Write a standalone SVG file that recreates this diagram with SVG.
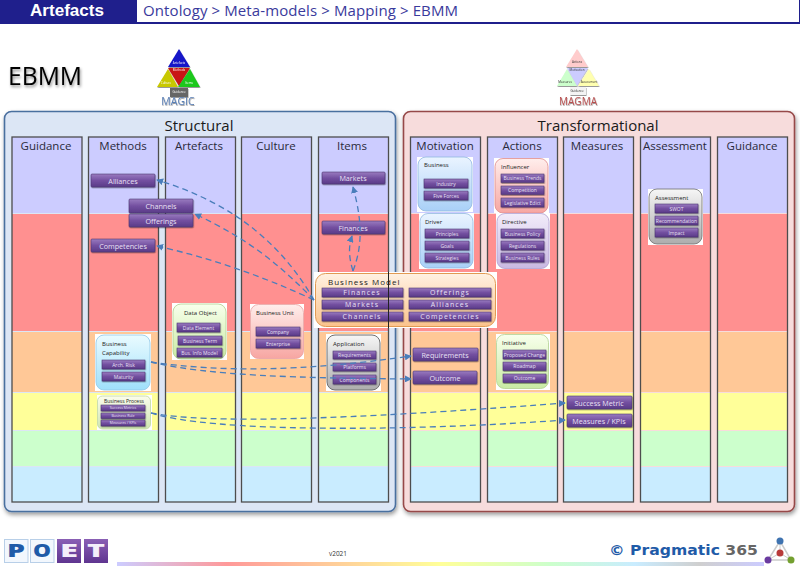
<svg xmlns="http://www.w3.org/2000/svg" xmlns:xlink="http://www.w3.org/1999/xlink" width="800" height="566" viewBox="0 0 800 566">
<style>
text{font-family:"Open Sans","Noto Sans","Liberation Sans",sans-serif}
.col{font-size:11.5px;fill:#2a2a3a;text-anchor:middle}
.ttl{font-size:15px;fill:#1a1a1a;text-anchor:middle}
.btn{fill:url(#gBtn);stroke:#4a3570;stroke-width:.6;filter:url(#sh)}
.bt{fill:#e8e0f4;text-anchor:middle;font-size:7.2px}
.bs{fill:#e8e0f4;text-anchor:middle;font-size:5px}
.bx{fill:#e8e0f4;text-anchor:middle;font-size:3.6px}
.bm{fill:#e8e0f4;text-anchor:middle;font-size:7px;letter-spacing:1.1px}
.nt{fill:#222;font-size:6px}
.bk{fill:#fff}
.conn{fill:none;stroke:#4a7ebb;stroke-width:1.3;stroke-dasharray:6 4;marker-end:url(#arr)}
.tri{font-size:3px;text-anchor:middle}
.colb{fill:none;stroke:#4d4d4d;stroke-width:1.3}
.logo{font-size:17px;font-weight:800;text-anchor:start}
</style>
<defs>
<linearGradient id="gBtn" x1="0" y1="0" x2="0" y2="1"><stop offset="0" stop-color="#9a7cc0"/><stop offset=".5" stop-color="#7350a0"/><stop offset="1" stop-color="#5a3a88"/></linearGradient>
<linearGradient id="gBlue" x1="0" y1="0" x2="0" y2="1"><stop offset="0" stop-color="#eaf4ff"/><stop offset="1" stop-color="#a9d0f7"/></linearGradient>
<linearGradient id="gPink" x1="0" y1="0" x2="0" y2="1"><stop offset="0" stop-color="#ffeeec"/><stop offset="1" stop-color="#f7a6a2"/></linearGradient>
<linearGradient id="gLav" x1="0" y1="0" x2="0" y2="1"><stop offset="0" stop-color="#f2ecfa"/><stop offset="1" stop-color="#c9b9e2"/></linearGradient>
<linearGradient id="gGreen" x1="0" y1="0" x2="0" y2="1"><stop offset="0" stop-color="#f8ffec"/><stop offset="1" stop-color="#c9eba4"/></linearGradient>
<linearGradient id="gCyan" x1="0" y1="0" x2="0" y2="1"><stop offset="0" stop-color="#eafbff"/><stop offset="1" stop-color="#9fe0fb"/></linearGradient>
<linearGradient id="gOlive" x1="0" y1="0" x2="0" y2="1"><stop offset="0" stop-color="#fbfcec"/><stop offset="1" stop-color="#cfe6b2"/></linearGradient>
<linearGradient id="gGrey" x1="0" y1="0" x2="0" y2="1"><stop offset="0" stop-color="#f6f6f6"/><stop offset="1" stop-color="#adadad"/></linearGradient>
<linearGradient id="gOrange" x1="0" y1="0" x2="0" y2="1"><stop offset="0" stop-color="#fff1e2"/><stop offset="1" stop-color="#fbc38c"/></linearGradient>
<linearGradient id="gFoot"><stop offset="0" stop-color="#ccccff"/><stop offset=".17" stop-color="#ff9999"/><stop offset=".33" stop-color="#ffcc99"/><stop offset=".5" stop-color="#ffff99"/><stop offset=".67" stop-color="#ccffcc"/><stop offset=".8" stop-color="#c9ecff"/><stop offset=".9" stop-color="#cfcfcf"/><stop offset="1" stop-color="#ccccff"/></linearGradient>
<linearGradient id="gP" x1="0" y1="0" x2="0" y2="1"><stop offset="0" stop-color="#8a5fb5"/><stop offset="1" stop-color="#5f3590"/></linearGradient>
<filter id="sh" x="-20%" y="-20%" width="140%" height="150%"><feDropShadow dx=".5" dy="1" stdDeviation=".6" flood-color="#000" flood-opacity=".4"/></filter>
<filter id="shL" x="-5%" y="-5%" width="110%" height="110%"><feDropShadow dx="1" dy="2.5" stdDeviation="2" flood-color="#000" flood-opacity=".4"/></filter>
<filter id="shT" x="-10%" y="-20%" width="125%" height="150%"><feDropShadow dx="1" dy="2" stdDeviation="1.5" flood-color="#000" flood-opacity=".45"/></filter>
<marker id="arr" viewBox="0 0 8 8" refX="7" refY="4" markerWidth="7" markerHeight="7" orient="auto" markerUnits="userSpaceOnUse"><path d="M0,0 L8,4 L0,8 Z" fill="#4a7ebb"/></marker>
<g id="bands">
<rect x="0" y="137" width="70" height="76" fill="#ccccff"/>
<rect x="0" y="214" width="70" height="117" fill="#ff9090"/>
<rect x="0" y="332" width="70" height="60" fill="#ffc897"/>
<rect x="0" y="393" width="70" height="37" fill="#ffff99"/>
<rect x="0" y="431" width="70" height="35" fill="#ccffcc"/>
<rect x="0" y="467" width="70" height="35" fill="#c9ecff"/>
<rect class="colb" x="0" y="137" width="70" height="365"/>
</g>
</defs>
<rect width="800" height="566" fill="#fff"/>

<g id="header">
<rect x="0" y="0" width="800" height="24" fill="#1f1f8c"/>
<rect x="137" y="0" width="662" height="22" fill="#fff"/>
<text x="30" y="16" font-size="17" font-weight="700" fill="#fff" textLength="74" lengthAdjust="spacingAndGlyphs" style="font-family:'Liberation Sans',sans-serif">Artefacts</text>
<text x="143" y="16" font-size="15" fill="#3a3a9c" textLength="315" lengthAdjust="spacing">Ontology &gt; Meta-models &gt; Mapping &gt; EBMM</text>
</g>
<text x="8" y="85" font-size="26" fill="#000" filter="url(#shT)" textLength="74" lengthAdjust="spacingAndGlyphs">EBMM</text>

<g id="magic" filter="url(#sh)">
<polygon points="179,49 168,67 190,67" fill="#1414c8"/>
<polygon points="168,68 190,68 179,86" fill="#c81414"/>
<polygon points="168,69 157,87 178,87" fill="#c8c800"/>
<polygon points="190,69 200,87 178,87" fill="#1ec81e"/>
<rect x="170" y="88" width="18" height="9" fill="#666"/>
<text class="tri" x="179" y="64" fill="#fff">Artefacts</text>
<text class="tri" x="179" y="71" fill="#fff">Methods</text>
<text class="tri" x="166" y="84" fill="#fff">Culture</text>
<text class="tri" x="189" y="84" fill="#fff">Items</text>
<text class="tri" x="179" y="93" fill="#fff">Guidance</text>
<text x="178" y="105" font-size="10.5" fill="#5a7fb5" text-anchor="middle">MAGIC</text>
</g>
<g id="magma" filter="url(#sh)">
<polygon points="577,49 566,67 588,67" fill="#ffcccc"/>
<polygon points="567,68 588,68 577,86" fill="#ccccff"/>
<polygon points="567,69 557,86 577,86" fill="#ccffcc"/>
<polygon points="589,69 599,86 578,86" fill="#ffffb0"/>
<rect x="570" y="87" width="16" height="8" fill="#f4f4f4"/>
<text class="tri" x="577" y="63" fill="#333">Actions</text>
<text class="tri" x="577" y="71" fill="#333">Motivation</text>
<text class="tri" x="565" y="83" fill="#333">Measures</text>
<text class="tri" x="589" y="83" fill="#333">Assessment</text>
<text class="tri" x="577" y="92" fill="#333">Guidance</text>
<text x="578" y="105" font-size="10" fill="#b85050" text-anchor="middle">MAGMA</text>
</g>

<g id="structural">
<rect x="4.5" y="111.5" width="391" height="400" rx="7" fill="#dce6f5" stroke="#4a6f9f" stroke-width="1.6" filter="url(#shL)"/>
<text class="ttl" x="199" y="131">Structural</text>
<use xlink:href="#bands" href="#bands" x="12"/><use xlink:href="#bands" href="#bands" x="88.5"/><use xlink:href="#bands" href="#bands" x="165.5"/><use xlink:href="#bands" href="#bands" x="241.5"/><use xlink:href="#bands" href="#bands" x="318.5"/>
<text class="col" x="46" y="150">Guidance</text>
<text class="col" x="123" y="150">Methods</text>
<text class="col" x="199" y="150">Artefacts</text>
<text class="col" x="276" y="150">Culture</text>
<text class="col" x="352" y="150">Items</text>
</g>
<g id="transformational">
<rect x="403.5" y="111.5" width="391" height="400" rx="7" fill="#f7dcdc" stroke="#964848" stroke-width="1.6" filter="url(#shL)"/>
<text class="ttl" x="598" y="131">Transformational</text>
<use xlink:href="#bands" href="#bands" x="410.5"/><use xlink:href="#bands" href="#bands" x="487.5"/><use xlink:href="#bands" href="#bands" x="563.5"/><use xlink:href="#bands" href="#bands" x="640.5"/><use xlink:href="#bands" href="#bands" x="717.5"/>
<text class="col" x="445" y="150">Motivation</text>
<text class="col" x="522" y="150">Actions</text>
<text class="col" x="597" y="150">Measures</text>
<text class="col" x="675" y="150">Assessment</text>
<text class="col" x="752" y="150">Guidance</text>
</g>

<g id="alliances"><rect class="btn" x="91" y="174" width="64" height="13" rx="1"/><text class="bt" x="123" y="183.5">Alliances</text></g>
<g id="channels"><rect class="btn" x="129" y="199" width="64" height="14" rx="1"/><text class="bt" x="161" y="209">Channels</text></g>
<g id="offerings"><rect class="btn" x="129" y="214" width="64" height="13" rx="1"/><text class="bt" x="161" y="223.5">Offerings</text></g>
<g id="competencies"><rect class="btn" x="91" y="239" width="64" height="13" rx="1"/><text class="bt" x="123" y="248.5">Competencies</text></g>
<g id="markets"><rect class="btn" x="322" y="172" width="63" height="12" rx="1"/><text class="bt" x="353" y="181">Markets</text></g>
<g id="finances"><rect class="btn" x="322" y="221" width="63" height="13" rx="1"/><text class="bt" x="353" y="230.5">Finances</text></g>
<g id="requirements"><rect class="btn" x="413" y="348" width="65" height="13" rx="1"/><text class="bt" x="445" y="357.5">Requirements</text></g>
<g id="outcome"><rect class="btn" x="413" y="371" width="64" height="13" rx="1"/><text class="bt" x="445" y="380.5">Outcome</text></g>
<g id="success-metric"><rect class="btn" x="567" y="396" width="65" height="13" rx="1"/><text class="bt" x="599" y="405.5">Success Metric</text></g>
<g id="measures-kpis"><rect class="btn" x="567" y="414" width="65" height="13" rx="1"/><text class="bt" x="599" y="423.5">Measures / KPIs</text></g>

<g id="data-object">
<rect class="bk" x="172" y="303" width="55" height="57"/>
<rect x="173" y="304" width="53" height="55" rx="8" fill="url(#gGreen)" stroke="#b0d090" stroke-width=".8"/>
<text class="nt" x="184" y="315">Data Object</text>
<rect class="btn" x="177" y="323" width="43" height="9"/><text class="bs" x="198.500" y="329.500">Data Element</text>
<rect class="btn" x="178" y="336" width="44" height="9"/><text class="bs" x="200" y="342.500">Business Term</text>
<rect class="btn" x="177" y="348" width="45" height="9"/><text class="bs" x="199.500" y="354.500">Bus. Info Model</text>
</g>
<g id="business-unit">
<rect class="bk" x="250" y="304" width="54" height="55"/>
<rect x="250.500" y="304.500" width="53" height="54" rx="8" fill="url(#gPink)" stroke="#e8a0a0" stroke-width=".8"/>
<text class="nt" x="256" y="315">Business Unit</text>
<rect class="btn" x="256" y="327" width="44" height="9"/><text class="bs" x="278" y="333.500">Company</text>
<rect class="btn" x="256" y="339" width="44" height="9"/><text class="bs" x="278" y="345.500">Enterprise</text>
</g>
<g id="business-capability">
<rect class="bk" x="95" y="334" width="56" height="57"/>
<rect x="96" y="335" width="54" height="55" rx="8" fill="url(#gCyan)" stroke="#90c8e8" stroke-width=".8"/>
<text class="nt" x="102" y="346">Business</text><text class="nt" x="102" y="355">Capability</text>
<rect class="btn" x="102" y="360" width="43" height="9"/><text class="bs" x="123.500" y="366.500">Arch. Risk</text>
<rect class="btn" x="102" y="372" width="43" height="9"/><text class="bs" x="123.500" y="378.500">Maturity</text>
</g>
<g id="business-process">
<rect class="bk" x="97" y="395" width="55" height="35"/>
<rect x="97.500" y="396" width="53" height="33" rx="5" fill="url(#gOlive)" stroke="#c0d8a0" stroke-width=".8"/>
<text x="124" y="403" text-anchor="middle" font-size="5" fill="#222">Business Process</text>
<rect class="btn" x="101" y="405" width="44" height="6"/><text class="bx" x="123" y="409.300">Success Metrics</text>
<rect class="btn" x="101" y="413" width="44" height="5.500"/><text class="bx" x="123" y="417">Business Rule</text>
<rect class="btn" x="101" y="420" width="44" height="6"/><text class="bx" x="123" y="424.300">Measures / KPIs</text>
</g>
<g id="application">
<rect class="bk" x="326" y="334" width="55" height="57"/>
<rect x="327" y="335" width="53" height="55" rx="8" fill="url(#gGrey)" stroke="#707070" stroke-width="1"/>
<text class="nt" x="333" y="346">Application</text>
<rect class="btn" x="333" y="351" width="43" height="8"/><text class="bs" x="354.500" y="357">Requirements</text>
<rect class="btn" x="333" y="363" width="43" height="8"/><text class="bs" x="354.500" y="369">Platforms</text>
<rect class="btn" x="333" y="375" width="43" height="9"/><text class="bs" x="354.500" y="381.500">Components</text>
</g>
<g id="business">
<rect class="bk" x="417" y="157" width="56" height="55"/>
<rect x="418" y="157" width="54" height="54" rx="8" fill="url(#gBlue)" stroke="#90b8e0" stroke-width=".8"/>
<text class="nt" x="424" y="167">Business</text>
<rect class="btn" x="424" y="179" width="44" height="9"/><text class="bs" x="446" y="185.500">Industry</text>
<rect class="btn" x="424" y="191" width="44" height="9"/><text class="bs" x="446" y="197.500">Five Forces</text>
</g>
<g id="driver">
<rect class="bk" x="419" y="213" width="55" height="56"/>
<rect x="420" y="213.500" width="53" height="54.500" rx="8" fill="url(#gBlue)" stroke="#90b8e0" stroke-width=".8"/>
<text class="nt" x="425" y="224">Driver</text>
<rect class="btn" x="425" y="229" width="44" height="9"/><text class="bs" x="447" y="235.500">Principles</text>
<rect class="btn" x="425" y="241" width="44" height="9"/><text class="bs" x="447" y="247.500">Goals</text>
<rect class="btn" x="425" y="253" width="44" height="9"/><text class="bs" x="447" y="259.500">Strategies</text>
</g>
<g id="influencer">
<rect class="bk" x="494" y="158" width="55" height="55"/>
<rect x="495" y="158.500" width="53" height="54.500" rx="8" fill="url(#gPink)" stroke="#e08a8a" stroke-width=".8"/>
<text class="nt" x="501" y="169">Influencer</text>
<rect class="btn" x="501" y="174" width="43" height="8.500"/><text class="bs" x="522.500" y="180">Business Trends</text>
<rect class="btn" x="501" y="186" width="43" height="8.500"/><text class="bs" x="522.500" y="192">Competition</text>
<rect class="btn" x="501" y="198" width="43" height="9"/><text class="bs" x="522.500" y="204.500">Legislative Edict</text>
</g>
<g id="directive">
<rect class="bk" x="496" y="213" width="54" height="56"/>
<rect x="497" y="213.500" width="52" height="55" rx="8" fill="url(#gLav)" stroke="#b0a0d0" stroke-width=".8"/>
<text class="nt" x="502" y="224">Directive</text>
<rect class="btn" x="501" y="229" width="43" height="9"/><text class="bs" x="522.500" y="235.500">Business Policy</text>
<rect class="btn" x="501" y="241" width="43" height="9"/><text class="bs" x="522.500" y="247.500">Regulations</text>
<rect class="btn" x="501" y="253" width="43" height="9"/><text class="bs" x="522.500" y="259.500">Business Rules</text>
</g>
<g id="initiative">
<rect class="bk" x="496" y="334" width="54" height="56"/>
<rect x="496.500" y="334.500" width="52" height="54" rx="8" fill="url(#gGreen)" stroke="#b0d090" stroke-width=".8"/>
<text class="nt" x="502" y="345">Initiative</text>
<rect class="btn" x="503" y="350" width="43" height="9"/><text class="bs" x="524.500" y="356.500">Proposed Change</text>
<rect class="btn" x="503" y="362" width="43" height="8.500"/><text class="bs" x="524.500" y="368">Roadmap</text>
<rect class="btn" x="503" y="374" width="43" height="8.500"/><text class="bs" x="524.500" y="380">Outcome</text>
</g>
<g id="assessment">
<rect class="bk" x="648" y="189" width="55" height="56"/>
<rect x="649" y="189" width="53" height="55" rx="8" fill="url(#gGrey)" stroke="#707070" stroke-width=".8"/>
<text class="nt" x="655" y="200">Assessment</text>
<rect class="btn" x="655" y="204" width="43" height="9"/><text class="bs" x="676.500" y="210.500">SWOT</text>
<rect class="btn" x="655" y="216" width="43" height="9"/><text class="bs" x="676.500" y="222.500">Recommendation</text>
<rect class="btn" x="655" y="228" width="43" height="9"/><text class="bs" x="676.500" y="234.500">Impact</text>
</g>

<g id="business-model">
<rect class="bk" x="314" y="272" width="183" height="56"/>
<rect x="315.500" y="273.500" width="180" height="53" rx="10" fill="url(#gOrange)" stroke="#e29a52" stroke-width="1"/>
<text x="328" y="285" font-size="8" fill="#222" letter-spacing="1">Business Model</text>
<rect class="btn" x="322" y="288" width="81" height="9"/><text class="bm" x="362" y="295">Finances</text>
<rect class="btn" x="322" y="300" width="81" height="9"/><text class="bm" x="362" y="307">Markets</text>
<rect class="btn" x="322" y="312" width="81" height="9"/><text class="bm" x="362" y="319">Channels</text>
<rect class="btn" x="409" y="288" width="82" height="9"/><text class="bm" x="450" y="295">Offerings</text>
<rect class="btn" x="409" y="300" width="82" height="9"/><text class="bm" x="450" y="307">Alliances</text>
<rect class="btn" x="409" y="312" width="82" height="9"/><text class="bm" x="450" y="319">Competencies</text>
</g>
<line x1="388.500" y1="272" x2="388.500" y2="328" stroke="#222" stroke-width="1"/>

<g id="connectors">
<path class="conn" d="M314,300 C285,250 240,205 157,180"/>
<path class="conn" d="M314,300 C280,265 250,240 195,214"/>
<path class="conn" d="M314,300 C260,275 210,258 157,246"/>
<path class="conn" d="M353,271 C348,255 349,245 352,236"/>
<path class="conn" d="M353,271 C363,245 362,220 353,187"/>
<path class="conn" d="M151,362 C220,372 300,372 411,356"/>
<path class="conn" d="M151,362 C210,376 300,378 411,379"/>
<path class="conn" d="M151,413 C210,424 340,420 565,403"/>
<path class="conn" d="M151,413 C210,432 400,432 565,420"/>
</g>

<g id="poet">
<rect x="4.500" y="539.500" width="23.500" height="23" fill="#f2f7fd" stroke="#b8cfe8"/>
<rect x="30.500" y="539.500" width="23.500" height="23" fill="#f2f7fd" stroke="#b8cfe8"/>
<rect x="57" y="539" width="24" height="24" fill="url(#gP)"/>
<rect x="84" y="539" width="24" height="24" fill="url(#gP)"/>
<text class="logo" x="7" y="557" fill="#1f5ba8" textLength="18" lengthAdjust="spacingAndGlyphs">P</text>
<text class="logo" x="33" y="557" fill="#1f5ba8" textLength="18" lengthAdjust="spacingAndGlyphs">O</text>
<text class="logo" x="60" y="557" fill="#f4eefa" textLength="18" lengthAdjust="spacingAndGlyphs">E</text>
<text class="logo" x="87" y="557" fill="#f4eefa" textLength="18" lengthAdjust="spacingAndGlyphs">T</text>
</g>
<text x="338" y="556" font-size="6.500" fill="#333" text-anchor="middle">v2021</text>
<rect x="117" y="562" width="647" height="4" fill="url(#gFoot)"/>
<g id="pragmatic">
<text x="609" y="555" font-size="14" font-weight="700" fill="#1f5ba8" textLength="149" lengthAdjust="spacingAndGlyphs" style="font-family:'DejaVu Sans',sans-serif">© Pragmatic <tspan fill="#666">365</tspan></text>
<path d="M780,541 L768,560 L791,560 Z" fill="none" stroke="#ccc" stroke-width="1.500"/>
<line x1="780" y1="541" x2="780" y2="553" stroke="#ccc"/><line x1="768" y1="560" x2="780" y2="553" stroke="#ccc"/><line x1="791" y1="560" x2="780" y2="553" stroke="#ccc"/>
<circle cx="780" cy="541" r="3.500" fill="#3f73b0"/>
<circle cx="780" cy="553" r="3.500" fill="#b83a3a"/>
<circle cx="768" cy="560" r="3.500" fill="#6a3aa0"/>
<circle cx="791" cy="560" r="3.500" fill="#74a030"/>
</g>
</svg>
